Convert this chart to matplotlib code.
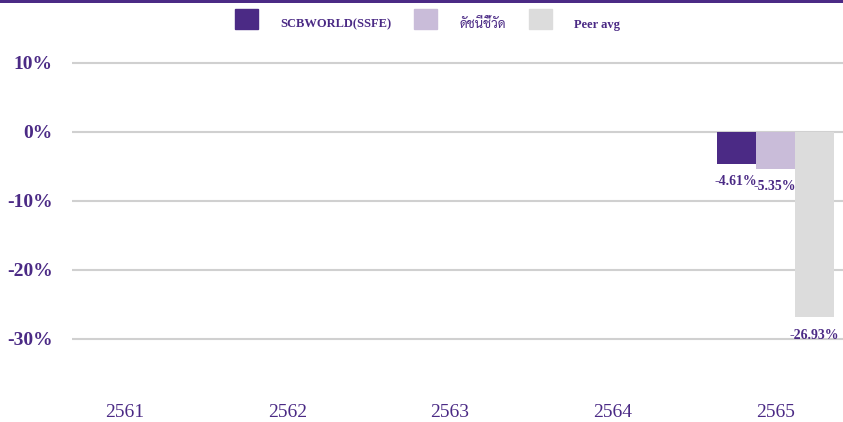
import matplotlib
matplotlib.use("Agg")
import matplotlib.pyplot as plt
from matplotlib import font_manager
from matplotlib.patches import Patch, Rectangle
import numpy as np

years = ["2561", "2562", "2563", "2564", "2565"]
series_names = ["SCBWORLD(SSFE)", "ดัชนีชี้วัด", "Peer avg"]
fund = [None, None, None, None, -4.61]
benchmark = [None, None, None, None, -5.35]
peer = [None, None, None, None, -26.93]
y_ticks = [10, 0, -10, -20, -30]

purple = "#4b2a85"
colors = ["#4b2a85", "#c9bcd9", "#dcdcdc"]


def find_thai_font():
    # prefer Sarabun, otherwise any font with Thai glyphs and zero-width marks
    paths = font_manager.findSystemFonts()
    for name in ["Sarabun-Regular", "Sarabun-Medium", "Sarabun-Light"]:
        for p in paths:
            if p.endswith(name + ".ttf"):
                return font_manager.FontProperties(fname=p)
    try:
        from fontTools.ttLib import TTFont
        for p in paths:
            try:
                f = TTFont(p, fontNumber=0, lazy=True)
                cmap = f.getBestCmap()
                if cmap and 0x0E31 in cmap and f["hmtx"][cmap[0x0E31]][0] == 0:
                    return font_manager.FontProperties(fname=p)
            except Exception:
                continue
    except ImportError:
        pass
    return None


thai_fp = find_thai_font()
serif = "Liberation Serif"

fig = plt.figure(figsize=(8.43, 4.22), dpi=100)
ax = fig.add_axes([72 / 843, 42 / 422, 1 - 72 / 843, 1 - 87 / 422])

x = np.arange(len(years))
width = 0.24
offsets = [-width, 0, width]
for vals, off, c in zip([fund, benchmark, peer], offsets, colors):
    for i, v in enumerate(vals):
        if v is None:
            continue
        ax.bar(x[i] + off, v, width=width, color=c, zorder=3)
        ax.annotate(f"{v:.2f}%", (x[i] + off, v), xytext=(0, -8),
                    textcoords="offset points", ha="center", va="top",
                    fontsize=10, fontweight="bold", family=serif, color=purple)

ax.set_xlim(-0.326, 4.418)
ax.set_ylim(-36, 12.6)
ax.set_yticks(y_ticks)
ax.set_yticklabels([f"{t}%" for t in y_ticks], fontsize=14, fontweight="bold",
                   family=serif, color=purple, va="center_baseline")
ax.set_xticks(x)
ax.set_xticklabels(years, fontsize=14, family=serif, color=purple)
ax.tick_params(axis="y", length=0, pad=14)
ax.tick_params(axis="x", length=0, pad=17)
ax.grid(axis="y", color="#d0d0d0", linewidth=1.5, zorder=0)
for s in ax.spines.values():
    s.set_visible(False)

# top purple band
fig.add_artist(Rectangle((0, 1 - 3 / 422), 1, 3 / 422, transform=fig.transFigure,
                         color=purple, lw=0))

handles = [Patch(color=c) for c in colors]
leg = fig.legend(handles, series_names, loc="upper center",
                 bbox_to_anchor=(0.507, 1 - 8 / 422), borderaxespad=0, borderpad=0.1,
                 ncol=3, frameon=False, fontsize=9, handlelength=1.84,
                 handleheight=2.1, handletextpad=1.76, columnspacing=1.84)
for i, t in enumerate(leg.get_texts()):
    t.set_color(purple)
    t.set_va("center_baseline")
    if i == 1 and thai_fp is not None:
        fp = thai_fp.copy()
        fp.set_size(9.5)
        t.set_fontproperties(fp)
    else:
        t.set_family(serif)
        t.set_fontweight("bold")

fig.savefig("out.png", dpi=100)
